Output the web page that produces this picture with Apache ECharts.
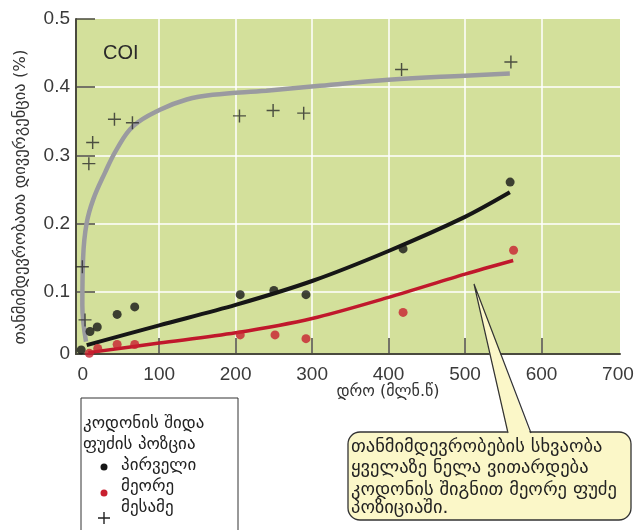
<!DOCTYPE html>
<html><head><meta charset="utf-8">
<script src="https://cdn.jsdelivr.net/npm/echarts@6/dist/echarts.min.js"></script>
<style>html,body{margin:0;padding:0;background:#fff}#c{width:639px;height:530px}</style>
</head><body><div id="c"></div>
<script>
// ---- data ----
const xTickValues = [100, 200, 300, 400, 500, 600];
const xLabelValues = [0, 100, 200, 300, 400, 500, 600, 700];
const yTickValues = [0.1, 0.2, 0.3, 0.4, 0.5];
const yLabelValues = [0.009, 0.1, 0.2, 0.3, 0.4, 0.5];

const firstPos = [[-2,0.015],[9.5,0.042],[19,0.0485],[45,0.067],[68,0.078],[206,0.096],[250,0.102],[292,0.096],[419,0.163],[559,0.261]];
const secondPos = [[8.6,0.01],[19.6,0.017],[45,0.023],[68,0.023],[206,0.037],[251.5,0.037],[292,0.0315],[419,0.07],[563.5,0.161]];
const thirdPos = [[-0.5,0.137],[3,0.059],[8,0.288],[13,0.319],[41.5,0.353],[65,0.348],[205,0.358],[249,0.366],[289,0.362],[417,0.426],[560,0.437]];

const firstCurve = [[5.2,0.022],[100,0.051],[200,0.081],[300,0.116],[400,0.16],[500,0.21],[558.6,0.246]];
const secondCurve = [[7.3,0.011],[100,0.025],[200,0.04],[300,0.061],[400,0.092],[500,0.126],[563,0.146]];
const thirdCurve = [[4.3,0.027],[-0.5,0.08],[0.5,0.15],[5,0.2],[13.9,0.236],[29,0.2745],[44.4,0.309],[66,0.343],[101,0.367],[136,0.382],[170,0.389],[240,0.395],[310,0.402],[400,0.411],[500,0.417],[558.6,0.42]];

const xTitle = 'დრო (მლნ.წ)';
const yTitle = 'თანმიმდევრობათა დივერგენცია (%)';
const panelLabel = 'COI';
const legendTitle = ['კოდონის შიდა', 'ფუძის პოზცია'];
const legendNames = ['პირველი', 'მეორე', 'მესამე'];
const calloutLines = ['თანმიმდევრობების სხვაობა', 'ყველაზე ნელა ვითარდება', 'კოდონის შიგნით მეორე ფუძე', 'პოზიციაში.'];

// ---- chart ----
const X_MIN = -8.8, X_MAX = 702.7, Y_MIN = 0.009, Y_MAX = 0.5;
const AX = '#4a4a3e';
const LBL = {fontFamily: 'Liberation Sans', fontSize: 19, color: '#3a3a3a'};
const GEO = "'DejaVu Sans'";
const plus = 'path://M4.45,0 H5.55 V4.45 H10 V5.55 H5.55 V10 H4.45 V5.55 H0 V4.45 H4.45 Z';

const chart = echarts.init(document.getElementById('c'), null, {renderer: 'canvas'});
chart.setOption({
  animation: false,
  grid: {left: 76, top: 19, right: 19, bottom: 176, show: true, backgroundColor: '#d3e09b', borderWidth: 0},
  xAxis: [
    {type: 'value', position: 'top', min: X_MIN, max: X_MAX, z: 0,
     axisLine: {show: false}, axisTick: {show: false, customValues: xTickValues}, axisLabel: {show: false},
     splitLine: {show: true, lineStyle: {color: '#ffffff', width: 1.5}}},
    {type: 'value', position: 'bottom', min: X_MIN, max: X_MAX, z: 1,
     axisLine: {show: true, onZero: false, lineStyle: {color: AX, width: 2}},
     axisTick: {show: true, inside: true, length: 16, customValues: xTickValues, lineStyle: {color: AX, width: 1.5}},
     axisLabel: Object.assign({customValues: xLabelValues, margin: 11}, LBL),
     splitLine: {show: false}}
  ],
  yAxis: [
    {type: 'value', position: 'right', min: Y_MIN, max: Y_MAX, z: 0,
     axisLine: {show: false}, axisTick: {show: false, customValues: yTickValues.slice(0, 4)}, axisLabel: {show: false},
     splitLine: {show: true, lineStyle: {color: '#ffffff', width: 1.5}}},
    {type: 'value', position: 'left', min: Y_MIN, max: Y_MAX, z: 1,
     axisLine: {show: true, onZero: false, lineStyle: {color: AX, width: 2}},
     axisTick: {show: true, inside: true, length: 19, customValues: yTickValues, lineStyle: {color: AX, width: 1.5}},
     axisLabel: Object.assign({customValues: yLabelValues, margin: 6,
       formatter: v => (v < 0.05 ? '0' : v.toFixed(1))}, LBL),
     splitLine: {show: false}}
  ],
  series: [
    {type: 'line', name: 'third-fit', data: thirdCurve, xAxisIndex: 1, yAxisIndex: 1, smooth: 0.4,
     showSymbol: false, lineStyle: {color: '#9a9aa0', width: 4.5}, z: 3},
    {type: 'line', name: 'first-fit', data: firstCurve, xAxisIndex: 1, yAxisIndex: 1, smooth: 0.3,
     showSymbol: false, lineStyle: {color: '#161616', width: 4}, z: 3},
    {type: 'line', name: 'second-fit', data: secondCurve, xAxisIndex: 1, yAxisIndex: 1, smooth: 0.3,
     showSymbol: false, lineStyle: {color: '#c0182c', width: 3.5}, z: 3},
    {type: 'scatter', name: legendNames[0], data: firstPos, xAxisIndex: 1, yAxisIndex: 1,
     symbol: 'circle', symbolSize: 9, itemStyle: {color: '#161616'}, z: 4},
    {type: 'scatter', name: legendNames[1], data: secondPos, xAxisIndex: 1, yAxisIndex: 1,
     symbol: 'circle', symbolSize: 9, itemStyle: {color: '#c8202f'}, z: 4},
    {type: 'scatter', name: legendNames[2], data: thirdPos, xAxisIndex: 1, yAxisIndex: 1,
     symbol: plus, symbolSize: 13, itemStyle: {color: '#2a2a2a'}, z: 4}
  ],
  graphic: [
    {type: 'text', x: 103, y: 53, z: 10,
     style: {text: panelLabel, font: '20px Liberation Sans', fill: '#2a2a2a', textVerticalAlign: 'middle'}},
    {type: 'text', x: 388, y: 392, z: 10,
     style: {text: xTitle, font: '16px ' + GEO, fill: '#333', textAlign: 'center', textVerticalAlign: 'middle'}},
    {type: 'text', x: 21, y: 197, rotation: Math.PI / 2, z: 10,
     style: {text: yTitle, font: '16.5px ' + GEO, fill: '#333', textAlign: 'center', textVerticalAlign: 'middle'}},
    // legend box
    {type: 'rect', z: 10, shape: {x: 81, y: 398, width: 157, height: 170},
     style: {fill: '#fff', stroke: '#333', lineWidth: 1}},
    {type: 'text', x: 83, y: 424, z: 11, style: {text: legendTitle[0], font: '17px ' + GEO, fill: '#222', textVerticalAlign: 'middle'}},
    {type: 'text', x: 83, y: 445, z: 11, style: {text: legendTitle[1], font: '17px ' + GEO, fill: '#222', textVerticalAlign: 'middle'}},
    {type: 'circle', z: 11, shape: {cx: 104, cy: 467, r: 3.5}, style: {fill: '#161616'}},
    {type: 'text', x: 121, y: 466, z: 11, style: {text: legendNames[0], font: '17px ' + GEO, fill: '#222', textVerticalAlign: 'middle'}},
    {type: 'circle', z: 11, shape: {cx: 104, cy: 493, r: 3.5}, style: {fill: '#c8202f'}},
    {type: 'text', x: 121, y: 487, z: 11, style: {text: legendNames[1], font: '17px ' + GEO, fill: '#222', textVerticalAlign: 'middle'}},
    {type: 'polygon', z: 11, shape: {points: [[103.3,512],[104.7,512],[104.7,517.3],[110,517.3],[110,518.7],[104.7,518.7],[104.7,524],[103.3,524],[103.3,518.7],[98,518.7],[98,517.3],[103.3,517.3]]}, style: {fill: '#222'}},
    {type: 'text', x: 121, y: 508, z: 11, style: {text: legendNames[2], font: '17px ' + GEO, fill: '#222', textVerticalAlign: 'middle'}},
    // callout
    {type: 'rect', z: 12, shape: {x: 348, y: 432, width: 283, height: 88, r: 12},
     style: {fill: '#fbf7c8', stroke: '#333', lineWidth: 1.3}},
    {type: 'polygon', z: 13, shape: {points: [[474, 284], [508, 436], [531, 436]]}, style: {fill: '#fbf7c8'}},
    {type: 'polyline', z: 13, shape: {points: [[508, 433], [474, 284], [531, 433]]}, style: {stroke: '#333', lineWidth: 1.2, fill: null}},
    {type: 'text', x: 351, y: 447, z: 14, style: {text: calloutLines[0], font: '18.5px ' + GEO, fill: '#222', textVerticalAlign: 'middle'}},
    {type: 'text', x: 351, y: 468, z: 14, style: {text: calloutLines[1], font: '18.5px ' + GEO, fill: '#222', textVerticalAlign: 'middle'}},
    {type: 'text', x: 351, y: 490, z: 14, style: {text: calloutLines[2], font: '18.5px ' + GEO, fill: '#222', textVerticalAlign: 'middle'}},
    {type: 'text', x: 351, y: 508, z: 14, style: {text: calloutLines[3], font: '18.5px ' + GEO, fill: '#222', textVerticalAlign: 'middle'}}
  ]
});
</script>
</body></html>
